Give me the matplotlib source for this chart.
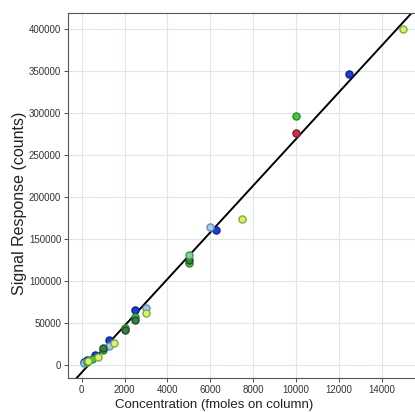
import numpy as np
import matplotlib
matplotlib.use("Agg")
from matplotlib import pyplot as plt

plt.rcParams['font.family'] = ['Liberation Sans', 'DejaVu Sans']

# concentration (fmoles on column) / signal response (counts), one list pair per series
blue_x = [12500, 6250, 2500, 1250, 625, 250, 125]
blue_y = [347000, 161000, 65000, 30000, 12000, 6000, 3000]
ltblue_x = [6000, 3000, 1250, 100]
ltblue_y = [164000, 68000, 23000, 2000]
red_x = [10000]
red_y = [276000]
green_x = [10000, 5000, 2500, 2000, 1000, 500, 250]
green_y = [296000, 122000, 57000, 44000, 18000, 7000, 4000]
dkgreen_x = [5000, 2500, 2000, 1000]
dkgreen_y = [125000, 54000, 42000, 20000]
teal_x = [5000]
teal_y = [131000]
yellow_x = [15000, 7500, 3000, 1500, 750, 300]
yellow_y = [400000, 174000, 62000, 26500, 9000, 5000]

series = [
    (blue_x, blue_y, "#1c3fd4", "#0d2590"),
    (ltblue_x, ltblue_y, "#a8cbec", "#5f8fbf"),
    (red_x, red_y, "#c8324a", "#8a1c2c"),
    (green_x, green_y, "#44c840", "#2a8a2a"),
    (dkgreen_x, dkgreen_y, "#3c7c48", "#1f4f28"),
    (teal_x, teal_y, "#86d09a", "#3c9a5a"),
    (yellow_x, yellow_y, "#dcee78", "#7cb030"),
]

fig = plt.figure(figsize=(4.15, 4.12), dpi=100)
ax = fig.add_axes([0.164, 0.0825, 0.84, 0.8855])

allx = np.concatenate([np.array(s[0]) for s in series])
ally = np.concatenate([np.array(s[1]) for s in series])
slope, icpt = np.polyfit(allx, ally, 1)
lx = np.array([-1000, 16000])
ax.plot(lx, slope * lx + icpt, color="black", lw=1.4, zorder=2)

for x, y, fc, ec in series:
    ax.scatter(x, y, s=26, facecolor=fc, edgecolor=ec, linewidths=1.0, zorder=3)

ax.set_xlim(-640, 15640)
ax.set_ylim(-15500, 419000)
ax.set_xticks(range(0, 14001, 2000))
ax.set_yticks(range(0, 400001, 50000))
ax.grid(True, color="#dbe8e8", lw=0.8)
ax.set_axisbelow(True)
for sp in ax.spines.values():
    sp.set_color("#555555")
ax.tick_params(labelsize=7, colors="#333333", length=3, width=0.6, pad=2)
ax.set_xlabel("Concentration (fmoles on column)", fontsize=9.5, color="#222222")
ax.set_ylabel("Signal Response (counts)", fontsize=11.5, color="#222222")
ax.xaxis.set_label_coords(0.42, -0.058)
ax.yaxis.set_label_coords(-0.118, 0.48)

fig.savefig("out.png", dpi=100)
